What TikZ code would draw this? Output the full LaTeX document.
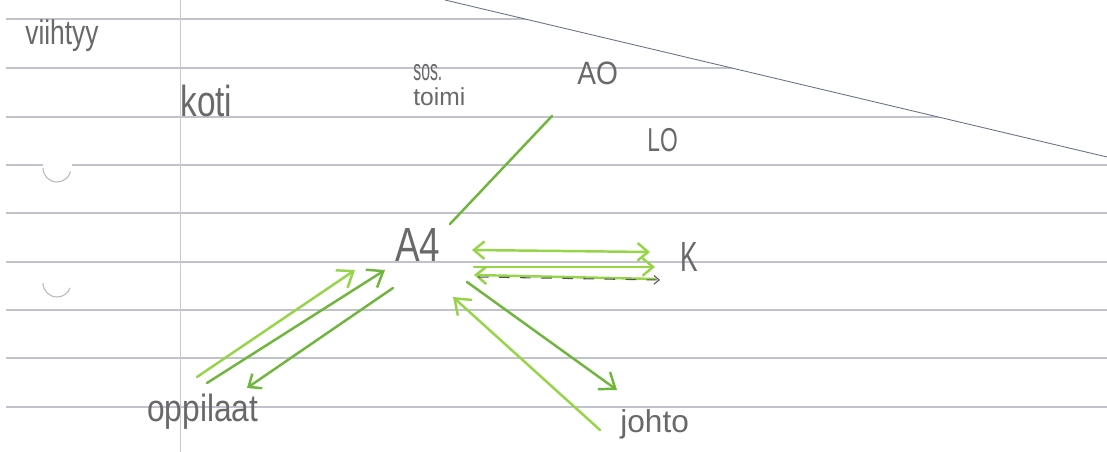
\documentclass[tikz,border=0pt]{standalone}
\usepackage{fontspec}
\setmainfont{Liberation Sans}
\usetikzlibrary{arrows.meta}

\definecolor{viiva}{RGB}{192,195,204}
\definecolor{marginaali}{RGB}{200,200,206}
\definecolor{reuna}{RGB}{105,115,135}
\definecolor{kyna}{RGB}{105,105,105}
\definecolor{vihrea}{RGB}{150,212,72}
\definecolor{tvihrea}{RGB}{112,182,62}

\newcommand{\venyta}[2]{\scalebox{1}[#1]{#2}}

\tikzset{
    teksti/.style={text=kyna, inner sep=0pt, anchor=base west},
    nuoli/.style={vihrea, line width=1.4pt, line cap=round},
    karki/.tip={Straight Barb[length=6pt, width=10pt]},
    isokarki/.tip={Straight Barb[length=8pt, width=12pt]}
}

\begin{document}
\begin{tikzpicture}[x=0.02cm, y=-0.02cm]
        \useasboundingbox (0,0) rectangle (1107,452);
        \fill[white] (0,0) rectangle (1107,452);

        % viivat
        \begin{scope}
            \clip (0,0) -- (445,0) -- (1107,157) -- (1107,452) -- (0,452) -- cycle;
            \foreach \y in {19,68,117,213,262,310,358,407}
                \draw[viiva, line width=0.6pt] (6,\y) -- (1107,\y);
            \draw[viiva, line width=0.6pt] (6,165) -- (43,165) (72,165) -- (1107,165);
        \end{scope}
        \draw[marginaali, line width=0.5pt] (180,0) -- (180,452);
        \draw[reuna, line width=0.5pt] (445,0) -- (1107,157);

        % reiät
        \draw[gray!55, line width=0.6pt] (43,168) arc[start angle=180, end angle=15, radius=14];
        \draw[gray!55, line width=0.6pt] (43,283) arc[start angle=180, end angle=20, radius=14];

        % tekstit
        \node[teksti, font=\fontsize{15}{15}\selectfont] (viihtyy) at (25,45) {\venyta{1.3}{viihtyy}};
        \node[teksti, font=\fontsize{19}{19}\selectfont] (koti) at (180,117) {\venyta{1.3}{koti}};
        \node[teksti, font=\fontsize{14}{14}\selectfont, align=left, anchor=north west] (sostoimi) at (413,64) {{\fontsize{9}{14}\selectfont\venyta{1.9}{sos.}}\\toimi};
        \node[teksti, font=\fontsize{16}{16}\selectfont] (AO) at (577,85) {\venyta{1.15}{AO}};
        \node[teksti, font=\fontsize{13}{13}\selectfont] (LO) at (647,152) {\venyta{1.45}{LO}};
        \node[teksti, font=\fontsize{21}{21}\selectfont] (A4) at (395,262) {\venyta{1.3}{A4}};
        \node[teksti, font=\fontsize{15}{15}\selectfont] (K) at (680,272) {\venyta{1.6}{K}};
        \node[teksti, font=\fontsize{18}{18}\selectfont] (oppilaat) at (147,422) {\venyta{1.2}{oppilaat}};
        \node[teksti, font=\fontsize{18}{18}\selectfont] (johto) at (620,433) {\venyta{1.0}{johto}};

        % päät
        \coordinate (ao1) at (450,224);
        \coordinate (ao2) at (552,116);
        \coordinate (k1a) at (472,250);
        \coordinate (k1b) at (650,252);
        \coordinate (k2a) at (474,267);
        \coordinate (k2b) at (655,267);
        \coordinate (k3a) at (474,275);
        \coordinate (k3b) at (655,279);
        \coordinate (k4a) at (478,277);
        \coordinate (k4b) at (660,280);
        \coordinate (op1a) at (197,377);
        \coordinate (op1b) at (355,270);
        \coordinate (op2a) at (207,383);
        \coordinate (op2b) at (385,270);
        \coordinate (op3a) at (393,288);
        \coordinate (op3b) at (247,388);
        \coordinate (jo1a) at (467,282);
        \coordinate (jo1b) at (617,390);
        \coordinate (jo2a) at (600,430);
        \coordinate (jo2b) at (453,297);

        % nuolet
        \draw[nuoli, tvihrea] (ao1) -- (ao2);
        \draw[nuoli, karki-karki] (k1a) -- (k1b);
        \draw[nuoli, -karki] (k2a) -- (k2b);
        \draw[nuoli, -karki] (k3b) -- (k3a);
        \draw[kyna!80!black, line width=0.6pt, dash pattern=on 6pt off 6pt, -{Straight Barb[length=3pt, width=5pt]}] (k4a) -- (k4b);
        \draw[nuoli, -isokarki] (op1a) -- (op1b);
        \draw[nuoli, tvihrea, -isokarki] (op2a) -- (op2b);
        \draw[nuoli, tvihrea, -karki] (op3a) -- (op3b);
        \draw[nuoli, tvihrea, -isokarki] (jo1a) -- (jo1b);
        \draw[nuoli, -isokarki] (jo2a) -- (jo2b);
\end{tikzpicture}
\end{document}
